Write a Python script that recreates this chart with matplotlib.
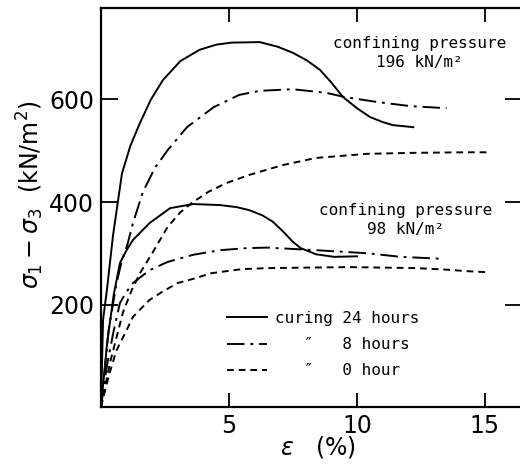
import matplotlib
matplotlib.use('Agg')
import matplotlib.pyplot as plt

# strain (%) and deviator stress (kN/m2)
strain_196_24h = [0, 0.08, 0.23, 0.47, 0.82, 1.15, 1.52, 1.95, 2.42, 3.1, 3.85, 4.5, 5.1, 6.2, 6.9, 7.5, 8.05, 8.55, 9.0, 9.45, 10.0, 10.5, 11.0, 11.4, 12.2]
stress_196_24h = [0, 170, 228, 335, 456, 510, 554, 600, 638, 675, 697, 707, 711, 712, 703, 691, 676, 658, 633, 605, 583, 566, 556, 550, 546]

strain_196_8h = [0, 0.3, 0.6, 0.82, 1.02, 1.25, 1.64, 2.1, 2.6, 3.36, 4.4, 5.4, 6.2, 7.5, 8.8, 9.5, 10.8, 12.1, 13.5]
stress_196_8h = [0, 150, 240, 287, 315, 359, 420, 466, 501, 546, 585, 609, 617, 620, 613, 605, 595, 587, 583]

strain_196_0h = [0, 0.35, 0.86, 1.2, 1.52, 2.0, 2.6, 3.1, 3.6, 4.2, 4.9, 5.8, 7.1, 8.4, 10.4, 12.3, 14.3, 15.2]
stress_196_0h = [0, 86, 185, 228, 261, 300, 351, 380, 400, 420, 437, 453, 472, 486, 494, 496, 497, 497]

strain_98_24h = [0, 0.25, 0.5, 0.74, 1.0, 1.25, 1.9, 2.7, 3.6, 4.65, 5.3, 5.8, 6.3, 6.7, 7.1, 7.5, 7.8, 8.4, 9.1, 10.0]
stress_98_24h = [0, 130, 220, 281, 306, 326, 359, 388, 396, 394, 390, 384, 374, 362, 343, 322, 310, 298, 293, 294]

strain_98_8h = [0, 0.23, 0.5, 0.74, 1.0, 1.25, 1.9, 2.6, 3.6, 4.65, 5.7, 6.5, 8.4, 10.4, 11.7, 13.4]
stress_98_8h = [0, 80, 150, 203, 225, 242, 267, 283, 297, 306, 310, 311, 306, 300, 293, 289]

strain_98_0h = [0, 0.3, 0.6, 1.0, 1.25, 1.9, 2.4, 3.0, 3.6, 4.3, 5.5, 6.5, 9.7, 12.3, 13.5, 14.3, 15.1]
stress_98_0h = [0, 60, 110, 150, 176, 209, 225, 242, 250, 261, 269, 271, 273, 271, 268, 265, 263]

x_ticks = [5, 10, 15]
y_ticks = [200, 400, 600]

mono = ['DejaVu Sans Mono', 'DejaVu Sans']

fig = plt.figure(figsize=(5.2, 4.65), dpi=100)
ax = fig.add_axes([101 / 520, 58 / 465, 421 / 520, 399 / 465])

solid = '-'
dashdot = (0, (9, 3, 1.5, 3))
dashed = (0, (3.5, 2.5))
lw = 1.4

h24, = ax.plot(strain_196_24h, stress_196_24h, color='black', lw=lw, ls=solid)
h8, = ax.plot(strain_196_8h, stress_196_8h, color='black', lw=lw, ls=dashdot)
h0, = ax.plot(strain_196_0h, stress_196_0h, color='black', lw=lw, ls=dashed)
ax.plot(strain_98_24h, stress_98_24h, color='black', lw=lw, ls=solid)
ax.plot(strain_98_8h, stress_98_8h, color='black', lw=lw, ls=dashdot)
ax.plot(strain_98_0h, stress_98_0h, color='black', lw=lw, ls=dashed)

ax.set_xlim(0, 421 / 25.6)
ax.set_ylim(0, 399 / 102.5 * 200)
ax.set_xticks(x_ticks)
ax.set_yticks(y_ticks)
ax.set_xticklabels(['5', '10', '15'])
ax.tick_params(direction='in', length=10, width=1.3, labelsize=17, pad=5,
               top=True, right=True)
ax.tick_params(axis='y', length=12)
for s in ax.spines.values():
    s.set_linewidth(1.6)

ax.text(12.45, 691, 'confining pressure\n196 kN/m²', ha='center', va='center',
        family=mono, fontsize=11.5, linespacing=1.3)
ax.text(11.9, 365, 'confining pressure\n98 kN/m²', ha='center', va='center',
        family=mono, fontsize=11.5, linespacing=1.3)

leg = ax.legend([h24, h8, h0],
                ['curing 24 hours', '   ″   8 hours', '   ″   0 hour'],
                loc='upper left', bbox_to_anchor=(126 / 421, 96 / 399),
                frameon=False, borderpad=0, borderaxespad=0,
                handlelength=2.5, handletextpad=0.5, labelspacing=0.7,
                prop={'family': mono, 'size': 11.5})

fig.text(30 / 520, 1 - 195 / 465, r'$\sigma_1-\sigma_3$  (kN/m$^2$)',
         rotation=90, ha='center', va='center', fontsize=17)
fig.text(318 / 520, 1 - 447 / 465, r'$\varepsilon$   (%)', ha='center',
         va='center', fontsize=17)

fig.savefig('out.png', dpi=100)
plt.close(fig)
